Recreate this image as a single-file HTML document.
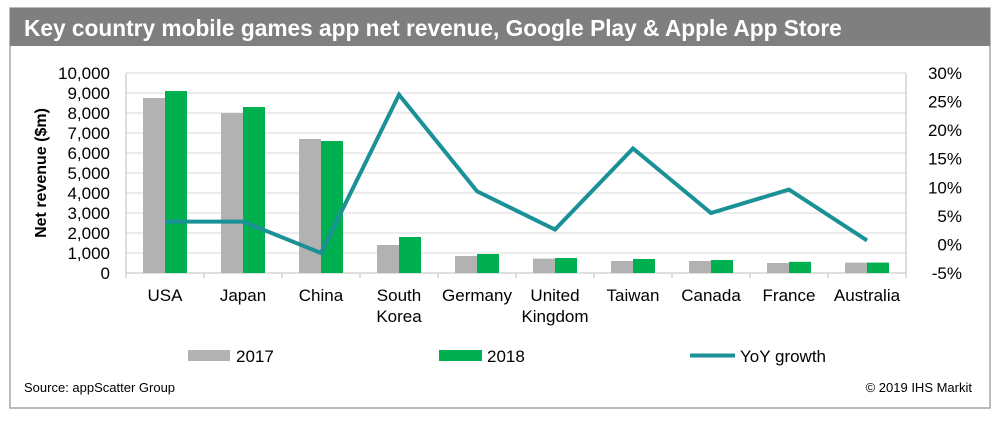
<!DOCTYPE html>
<html><head><meta charset="utf-8"><style>
body{margin:0;background:#fff;font-family:"Liberation Sans",Arial,sans-serif}
</style></head><body>
<svg id="chart" width="1000" height="416" xmlns="http://www.w3.org/2000/svg" font-family="Liberation Sans, Arial, sans-serif">
<rect x="10" y="8" width="980" height="400" fill="#fff" stroke="#a6a6a6" stroke-width="1.5"/>
<rect x="10" y="8" width="980" height="38" fill="#7f7f7f"/>
<text x="24" y="36" fill="#fff" font-size="22.7" font-weight="bold">Key country mobile games app net revenue, Google Play &amp; Apple App Store</text>
<g id="grid"></g><g id="bars"></g><g id="line"></g><g id="axes"></g>
<text transform="translate(46,173) rotate(-90)" text-anchor="middle" font-size="16" font-weight="bold">Net revenue ($m)</text>
<rect x="188" y="350" width="42" height="11" fill="#b2b2b2"/>
<text x="236" y="362" font-size="17">2017</text>
<rect x="439" y="350" width="43" height="11" fill="#00b050"/>
<text x="487" y="362" font-size="17">2018</text>
<line x1="690" y1="355.5" x2="735" y2="355.5" stroke="#1a9196" stroke-width="4"/>
<text x="740" y="362" font-size="17">YoY growth</text>
<text x="24" y="392" font-size="13">Source: appScatter Group</text>
<text x="972" y="392" font-size="13" text-anchor="end">© 2019 IHS Markit</text>
</svg>
<script>
const categories=["USA","Japan","China","South|Korea","Germany","United|Kingdom","Taiwan","Canada","France","Australia"];
const rev2017=[8750,8000,6700,1400,850,720,600,600,500,520];
const rev2018=[9100,8300,6600,1800,950,750,700,650,560,520];
const yoy=[4.0,4.0,-1.5,26.2,9.3,2.6,16.8,5.5,9.6,0.7];
const leftTicks=[0,1000,2000,3000,4000,5000,6000,7000,8000,9000,10000];
const rightTicks=[-5,0,5,10,15,20,25,30];
const NS="http://www.w3.org/2000/svg";
const X0=126,X1=906,YT=73,YB=273;
const band=(X1-X0)/categories.length;
const xc=i=>X0+band*(i+0.5);
const yL=v=>YB-(v/10000)*(YB-YT);
const yR=v=>YB-((v+5)/35)*(YB-YT);
function mk(tag,attrs,parent){const e=document.createElementNS(NS,tag);for(const k in attrs)e.setAttribute(k,attrs[k]);document.getElementById(parent).appendChild(e);return e;}
leftTicks.forEach((t,i)=>{
 const g=mk('line',{x1:X0,x2:X1,y1:yL(t),y2:yL(t),stroke:t===0?'#bfbfbf':'#d9d9d9','stroke-width':1},'grid');
 
 
 const l=mk('text',{x:X0-16,y:yL(t)+6,'text-anchor':'end','font-size':17},'axes');l.textContent=t.toLocaleString('en-US');
 
 
});
rightTicks.forEach(t=>{
 const l=mk('text',{x:962,y:yR(t)+6,'text-anchor':'end','font-size':17},'axes');l.textContent=t+'%';
 
 
});
mk('line',{x1:X0,x2:X0,y1:YT,y2:YB,stroke:'#bfbfbf'},'axes');
mk('line',{x1:X1,x2:X1,y1:YT,y2:YB,stroke:'#bfbfbf'},'axes');
for(let i=0;i<=categories.length;i++){mk('line',{x1:X0+band*i,x2:X0+band*i,y1:YB,y2:YB+5,stroke:'#bfbfbf'},'axes');}
categories.forEach((c,i)=>{
 const a=mk('rect',{x:xc(i)-22,y:yL(rev2017[i]),width:22,height:YB-yL(rev2017[i]),fill:'#b2b2b2'},'bars');
 
 
 const b=mk('rect',{x:xc(i),y:yL(rev2018[i]),width:22,height:YB-yL(rev2018[i]),fill:'#00b050'},'bars');
 
 
 c.split('|').forEach((p,j)=>{
  const t=mk('text',{x:xc(i),y:301+j*21,'text-anchor':'middle','font-size':17},'axes');t.textContent=p;
  
  
 });
});
const pl=mk('polyline',{points:yoy.map((v,i)=>xc(i)+','+yR(v)).join(' '),fill:'none',stroke:'#1a9196','stroke-width':4,'stroke-linejoin':'miter'},'line');


</script>
</body></html>
